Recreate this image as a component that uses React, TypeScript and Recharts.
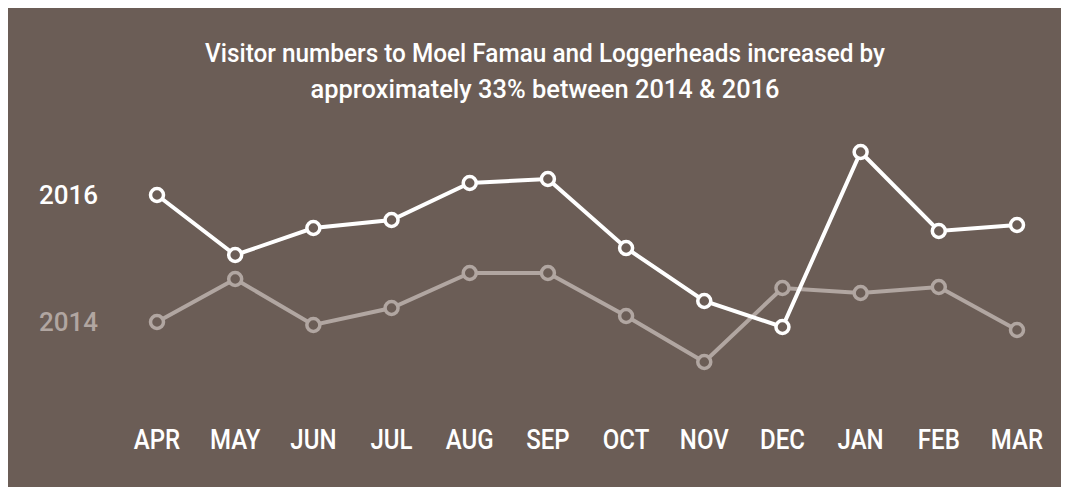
import React from "react";
import { LineChart, Line, XAxis, YAxis, LabelList, Customized } from "recharts";

const months = ["APR", "MAY", "JUN", "JUL", "AUG", "SEP", "OCT", "NOV", "DEC", "JAN", "FEB", "MAR"];
const visitors2016 = [205, 145, 172, 180, 217, 221, 152, 99, 73, 248, 169, 175];
const visitors2014 = [78, 121, 75, 92, 127, 127, 84, 38, 112, 107, 113, 70];
const titleLines = [
  "Visitor numbers to Moel Famau and Loggerheads increased by",
  "approximately 33% between 2014 & 2016",
];

const data = months.map((m, i) => ({ month: m, y2016: visitors2016[i], y2014: visitors2014[i] }));

const BG = "#6b5d56";
const C2016 = "#ffffff";
const C2014 = "#b1a6a1";
const FONT = "Roboto, sans-serif";

const Tick = (props: any) => {
  const { x, y, payload } = props;
  return (
    <g transform={`translate(${x},${y + 49}) scale(0.89,1)`}>
      <text
        x={0}
        y={0}
        textAnchor="middle"
        fill="#ffffff"
        fontFamily={FONT}
        fontWeight={500}
        fontSize={27}
      >
        {payload.value}
      </text>
    </g>
  );
};

const seriesLabel = (text: string, color: string) => (props: any) => {
  const { x, y, index } = props;
  if (index !== 0) return null;
  return (
    <text
      x={x - 59}
      y={y + 9}
      textAnchor="end"
      fill={color}
      fontFamily={FONT}
      fontWeight={500}
      fontSize={26}
    >
      {text}
    </text>
  );
};

const Title = () => (
  <g>
    <text
      x={537}
      y={56}
      textAnchor="middle"
      fill="#ffffff"
      fontFamily={FONT}
      fontWeight={500}
      fontSize={26}
      textLength={680}
      lengthAdjust="spacingAndGlyphs"
    >
      {titleLines[0]}
    </text>
    <text
      x={537}
      y={92}
      textAnchor="middle"
      fill="#ffffff"
      fontFamily={FONT}
      fontWeight={500}
      fontSize={26}
      textLength={469}
      lengthAdjust="spacingAndGlyphs"
    >
      {titleLines[1]}
    </text>
  </g>
);

export default function App() {
  return (
    <div style={{ marginTop: -2, width: 1059, height: 481, background: BG }}>
      <LineChart
        width={1059}
        height={481}
        data={data}
        margin={{ top: 94, right: 50, bottom: 0, left: 149 }}
      >
        <XAxis
          dataKey="month"
          axisLine={false}
          tickLine={false}
          tickSize={0}
          tickMargin={0}
          height={87}
          interval={0}
          tick={<Tick />}
        />
        <YAxis hide domain={[0, 300]} />
        <Line
          dataKey="y2014"
          stroke={C2014}
          strokeWidth={4}
          isAnimationActive={false}
          dot={{ r: 6.5, fill: BG, stroke: C2014, strokeWidth: 3.5 }}
          activeDot={false}
        >
          <LabelList dataKey="y2014" content={seriesLabel("2014", C2014)} />
        </Line>
        <Line
          dataKey="y2016"
          stroke={C2016}
          strokeWidth={4}
          isAnimationActive={false}
          dot={{ r: 6.5, fill: BG, stroke: C2016, strokeWidth: 3.5 }}
          activeDot={false}
        >
          <LabelList dataKey="y2016" content={seriesLabel("2016", C2016)} />
        </Line>
        <Customized component={Title} />
      </LineChart>
    </div>
  );
}
